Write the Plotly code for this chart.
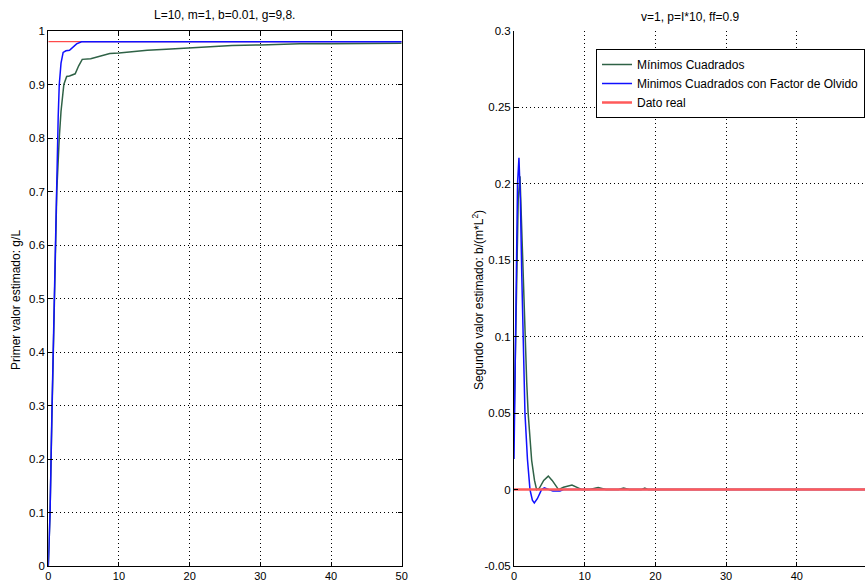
import plotly.graph_objects as go

# ---- Panel 1: first estimated parameter g/L ----
t_mc1 = [0, 0.25, 0.5, 0.7, 0.9, 1.05, 1.2, 1.55, 1.8, 2.2, 2.6, 3.0, 3.8, 4.3, 4.8, 6.0, 7.3,
         8.7, 10, 12, 14, 16.7, 19, 21.4, 24, 26, 30, 35.6, 40, 45, 50]
g_mc1 = [0, 0.1, 0.27, 0.4, 0.52, 0.6, 0.7, 0.8, 0.85, 0.9, 0.915, 0.916, 0.92, 0.935, 0.947,
         0.948, 0.953, 0.958, 0.959, 0.962, 0.964, 0.966, 0.968, 0.97, 0.971, 0.973, 0.974,
         0.976, 0.976, 0.977, 0.977]
t_ff1 = [0, 0.25, 0.5, 0.7, 0.95, 1.2, 1.4, 1.55, 1.8, 2.1, 2.5, 3.0, 3.5, 4.0, 4.7, 50]
g_ff1 = [0, 0.1, 0.28, 0.41, 0.6, 0.75, 0.84, 0.9, 0.94, 0.96, 0.963, 0.964, 0.97, 0.976, 0.98, 0.98]
t_real1 = [0, 50]
g_real1 = [0.98, 0.98]

# ---- Panel 2: second estimated parameter b/(m*L^2) ----
t_mc2 = [0, 0.3, 0.6, 0.85, 1.1, 1.3, 1.55, 1.8, 2.0, 2.5, 2.9, 3.2, 3.6, 4.2, 4.85, 5.4, 6.3,
         7.0, 8.2, 9.6, 10.7, 11.9, 13, 14.8, 15.5, 16.3, 18, 18.5, 19, 50]
b_mc2 = [0.04, 0.12, 0.19, 0.205, 0.17, 0.13, 0.1, 0.07, 0.05, 0.019, 0.006, 0.0, 0.001,
         0.006, 0.0088, 0.006, 0.0, 0.0015, 0.003, 0.0, 0.0, 0.0014, 0.0, 0.0, 0.001, 0.0,
         0.0, 0.001, 0.0, 0.0]
t_ff2 = [0, 0.2, 0.35, 0.5, 0.7, 0.9, 1.1, 1.3, 1.55, 1.9, 2.26, 2.6, 2.87, 3.3, 3.9, 4.3,
         4.9, 5.5, 6.5, 7.0, 50]
b_ff2 = [0.02, 0.09, 0.15, 0.2, 0.217, 0.19, 0.14, 0.1, 0.05, 0.02, 0.0, -0.007, -0.0087,
         -0.006, 0.0, 0.0012, 0.0, -0.001, -0.001, 0.0, 0.0]
t_real2 = [0, 50]
b_real2 = [0, 0]

x_ticks = [0, 10, 20, 30, 40, 50]
y1_ticks = [0, 0.1, 0.2, 0.3, 0.4, 0.5, 0.6, 0.7, 0.8, 0.9, 1]
y1_labels = ["0", "0.1", "0.2", "0.3", "0.4", "0.5", "0.6", "0.7", "0.8", "0.9", "1"]
y2_ticks = [-0.05, 0, 0.05, 0.1, 0.15, 0.2, 0.25, 0.3]
y2_labels = ["-0.05", "0", "0.05", "0.1", "0.15", "0.2", "0.25", "0.3"]

names = ["Mínimos Cuadrados", "Minimos Cuadrados con Factor de Olvido", "Dato real"]

GREEN = "#2f6246"
BLUE = "#1010ff"
RED = "#ff2020"
FONT = "Liberation Sans, Arial, sans-serif"

W, H = 865, 582
fig = go.Figure()

# Left panel (red drawn first so the blue estimate lies over it)
fig.add_trace(go.Scatter(x=t_real1, y=g_real1, mode="lines", line=dict(color=RED, width=1),
                         showlegend=False, xaxis="x", yaxis="y"))
fig.add_trace(go.Scatter(x=t_mc1, y=g_mc1, mode="lines", line=dict(color=GREEN, width=1.5),
                         showlegend=False, xaxis="x", yaxis="y"))
fig.add_trace(go.Scatter(x=t_ff1, y=g_ff1, mode="lines", line=dict(color=BLUE, width=1.5),
                         showlegend=False, xaxis="x", yaxis="y"))

# Right panel with legend
fig.add_trace(go.Scatter(x=t_mc2, y=b_mc2, mode="lines", name=names[0],
                         line=dict(color=GREEN, width=1.5), xaxis="x2", yaxis="y2"))
fig.add_trace(go.Scatter(x=t_ff2, y=b_ff2, mode="lines", name=names[1],
                         line=dict(color=BLUE, width=1.5), xaxis="x2", yaxis="y2"))
fig.add_trace(go.Scatter(x=t_real2, y=b_real2, mode="lines", name=names[2],
                         line=dict(color="#ff5a5a", width=2.5), xaxis="x2", yaxis="y2"))

top_px, bot_px = 31, 566
ydom = [1 - bot_px / H, 1 - top_px / H]

axis_common = dict(
    showline=True, linecolor="black", linewidth=1,
    ticks="inside", ticklen=4, tickcolor="black",
    showgrid=True, gridcolor="black", gridwidth=1, griddash="1px,3px",
    zeroline=False,
)
yfont = dict(family=FONT, size=11.5, color="black")
xfont = dict(family=FONT, size=11, color="black")

fig.update_layout(
    width=W, height=H,
    margin=dict(l=0, r=0, t=0, b=0, autoexpand=False),
    paper_bgcolor="white", plot_bgcolor="white",
    font=dict(family=FONT, size=12, color="black"),
    xaxis=dict(domain=[48.3 / W, 401.7 / W], range=[0, 50], tickvals=x_ticks,
               mirror="ticks", anchor="y", tickfont=xfont, **axis_common),
    yaxis=dict(domain=ydom, range=[0, 1], tickvals=y1_ticks, ticktext=y1_labels,
               mirror="ticks", anchor="x", tickfont=yfont, **axis_common),
    xaxis2=dict(domain=[514 / W, 1.0], range=[0, 49.65], tickvals=x_ticks,
                anchor="y2", tickfont=xfont, **axis_common),
    yaxis2=dict(domain=ydom, range=[-0.05, 0.3], tickvals=y2_ticks, ticktext=y2_labels,
                anchor="x2", tickfont=yfont, **axis_common),
    legend=dict(x=596 / W, y=1 - 49 / H, xanchor="left", yanchor="top",
                bgcolor="white", bordercolor="black", borderwidth=1,
                font=dict(family=FONT, size=12, color="black"),
                tracegroupgap=0, itemwidth=30),
    showlegend=True,
    annotations=[
        dict(text="L=10, m=1, b=0.01, g=9,8.", x=(48.3 + 401.7) / 2 / W, y=1 - 15 / H,
             xanchor="center", yanchor="middle",
             xref="paper", yref="paper", showarrow=False, font=dict(size=12)),
        dict(text="v=1, p=I*10, ff=0.9", x=690 / W, y=1 - 17 / H,
             xanchor="center", yanchor="middle",
             xref="paper", yref="paper", showarrow=False, font=dict(size=12)),
        dict(text="Primer valor estimado: g/L", x=16 / W, y=1 - 300 / H, textangle=-90,
             xanchor="center", yanchor="middle",
             xref="paper", yref="paper", showarrow=False, font=dict(size=12)),
        dict(text="Segundo valor estimado: b/(m*L<sup>2</sup>)", x=478 / W, y=1 - 300 / H,
             textangle=-90, xanchor="center", yanchor="middle",
             xref="paper", yref="paper", showarrow=False, font=dict(size=12)),
    ],
)

fig.write_html("out.html")
